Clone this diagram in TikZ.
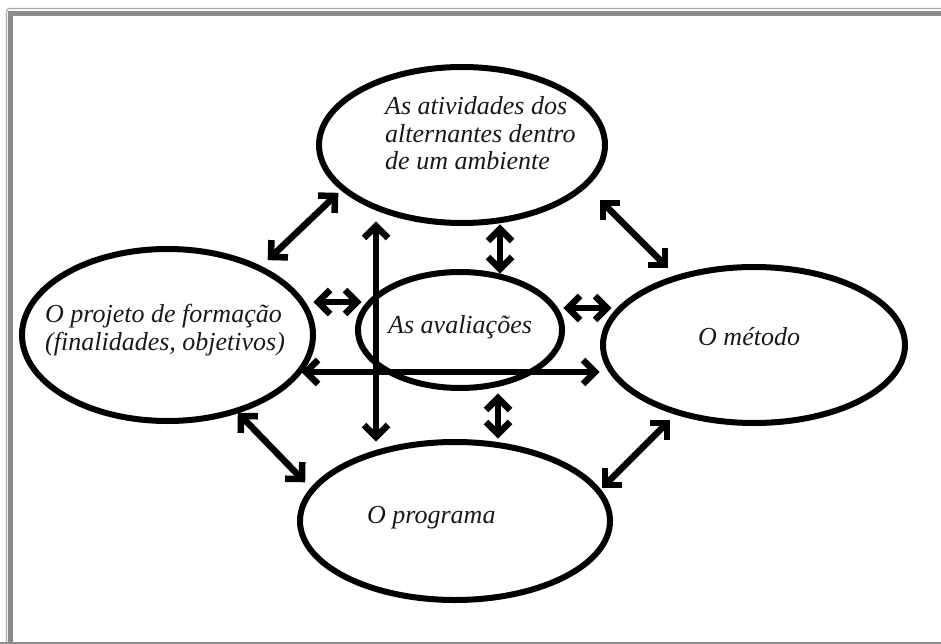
\documentclass[tikz,border=0pt]{standalone}
\usepackage{fontspec}
\setmainfont{Liberation Serif}
\usetikzlibrary{shapes.geometric,calc}
\definecolor{framegray}{HTML}{8C8C8C}
\definecolor{framelight}{HTML}{A8A8A8}
\tikzset{
  oval/.style={draw=black,line width=6pt,ellipse,inner sep=0pt,fill=none},
  lbl/.style={anchor=base west,inner sep=0pt,font=\fontsize{26}{28}\selectfont\itshape,text=black!90},
  shaft/.style={draw=black,line width=6.5pt,line cap=butt},
  barb/.style={draw=black,line width=6.5pt,line join=miter,line cap=butt},
}
\newcommand{\barbpair}[2]{%
  \draw[shaft] (#1) -- (#2);
  \draw[barb] ($(#2)!12pt!(#1)!12pt!90:(#1)$) -- (#2) -- ($(#2)!12pt!(#1)!12pt!-90:(#1)$);
  \draw[barb] ($(#1)!12pt!(#2)!12pt!90:(#2)$) -- (#1) -- ($(#1)!12pt!(#2)!12pt!-90:(#2)$);
}
\begin{document}
\begin{tikzpicture}[x=1pt,y=-1pt]
\useasboundingbox (0,0) rectangle (941,644);
\fill[white] (0,0) rectangle (941,644);
% frame
\draw[framelight,line width=1.2pt,rounded corners=3pt] (6.5,644) -- (6.5,8.5) -- (941,8.5);
\draw[framegray,line width=5pt] (10.8,644) -- (10.8,13.5) -- (941,13.5);
\fill[framegray] (0,641.5) rectangle (941,644);
% ellipses
\node[oval,minimum width=286pt,minimum height=156pt] (T) at (462,145) {};
\node[oval,minimum width=291pt,minimum height=172pt] (L) at (167.5,335) {};
\node[oval,minimum width=204pt,minimum height=116pt] (C) at (460,330) {};
\node[oval,minimum width=302pt,minimum height=156pt] (R) at (754,345) {};
\node[oval,minimum width=310pt,minimum height=158pt] (B) at (455,521) {};
% texts
\node[lbl] (t1) at (385,115) {As atividades dos};
\node[lbl] (t2) at (385,142.5) {alternantes dentro};
\node[lbl] (t3) at (385,170) {de um ambiente};
\node[lbl] (l1) at (45,322) {O projeto de formação};
\node[lbl] (l2) at (45,350) {(finalidades, objetivos)};
\node[lbl] (c1) at (388,333) {As avaliações};
\node[lbl] (r1) at (698,345) {O método};
\node[lbl] (b1) at (367,523) {O programa};
% arrow end points
\coordinate (a1s) at (271,257); \coordinate (a1e) at (335,196);
\coordinate (a2s) at (376,226); \coordinate (a2e) at (376,437);
\coordinate (a3s) at (318,302); \coordinate (a3e) at (357,302);
\coordinate (a4s) at (500,229); \coordinate (a4e) at (500,269);
\coordinate (a5s) at (568,308); \coordinate (a5e) at (607,308);
\coordinate (a6s) at (306,372); \coordinate (a6e) at (595,372);
\coordinate (a7s) at (603,203); \coordinate (a7e) at (665,265);
\coordinate (a8s) at (498,398); \coordinate (a8e) at (498,434);
\coordinate (a9s) at (241,416); \coordinate (a9e) at (302,479);
\coordinate (a10s) at (605,485); \coordinate (a10e) at (667,423);
% arrows
\barbpair{a1s}{a1e}
\barbpair{a2s}{a2e}
\barbpair{a3s}{a3e}
\barbpair{a4s}{a4e}
\barbpair{a5s}{a5e}
\barbpair{a6s}{a6e}
\barbpair{a7s}{a7e}
\barbpair{a8s}{a8e}
\barbpair{a9s}{a9e}
\barbpair{a10s}{a10e}
\end{tikzpicture}
\end{document}
